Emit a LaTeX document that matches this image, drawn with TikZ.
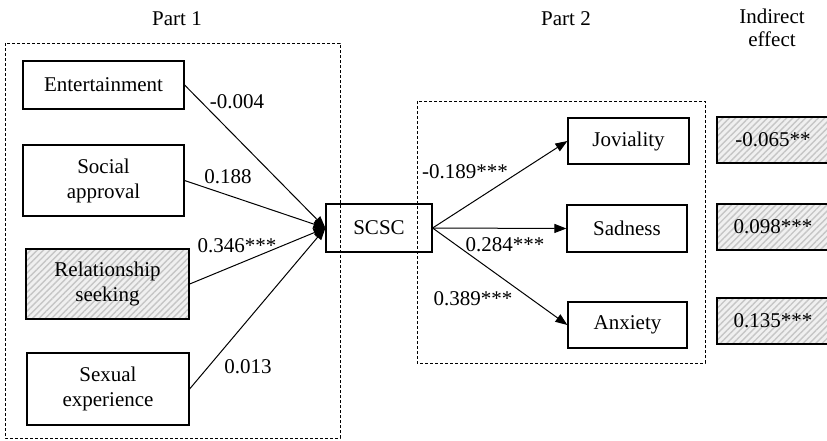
\documentclass[tikz,border=0pt]{standalone}
\usepackage{fontspec}
\setmainfont{Liberation Serif}
\usetikzlibrary{arrows.meta, patterns.meta}

\tikzset{
	varbox/.style = {draw, line width = 1.2pt, inner sep = 0pt, align = center, font = \fontsize{21pt}{25pt}\selectfont},
	hatchbox/.style = {varbox, line width = 2.8pt, preaction = {fill = gray!12}, pattern = {Lines[angle = 45, distance = 4.5pt, line width = 1.4pt]}, pattern color = gray!45},
	coef/.style = {inner sep = 0pt, font = \fontsize{21pt}{25pt}\selectfont},
	partbox/.style = {line width = 1pt, dash pattern = on 3pt off 2pt},
	path/.style = {line width = 1pt, -{Triangle[length = 12pt, width = 9pt]}}
}

\begin{document}
\begin{tikzpicture}[x = 1pt, y = -1pt]
	\clip (0, 0) rectangle (827, 440);
	\fill [white] (0, 0) rectangle (827, 440);

	\coordinate (p1a) at (5, 43);
	\coordinate (p1b) at (340, 438);
	\coordinate (p2a) at (417, 101);
	\coordinate (p2b) at (705, 363);

	\draw [partbox] (p1a) rectangle (p1b);
	\draw [partbox] (p2a) rectangle (p2b);

	\node [coef] (part1) at (177, 19) {Part 1};
	\node [coef] (part2) at (566, 19) {Part 2};
	\node [coef, align = center, font = \fontsize{21pt}{23pt}\selectfont] (indirect) at (772, 28) {Indirect\\effect};

	\node [varbox, minimum width = 161pt, minimum height = 48pt] (ent) at (103.5, 85) {Entertainment};
	\node [varbox, minimum width = 161pt, minimum height = 71pt] (soc) at (103.5, 180.5) {Social\\approval};
	\node [hatchbox, minimum width = 163pt, minimum height = 70pt] (rel) at (107.5, 284) {Relationship\\seeking};
	\node [varbox, minimum width = 162pt, minimum height = 72pt] (sex) at (108, 389) {Sexual\\experience};

	\node [varbox, minimum width = 106pt, minimum height = 48pt] (scsc) at (379, 228) {SCSC};

	\node [varbox, minimum width = 121pt, minimum height = 46pt] (jov) at (628.5, 141) {Joviality};
	\node [varbox, minimum width = 120pt, minimum height = 47pt] (sad) at (627, 228.5) {Sadness};
	\node [varbox, minimum width = 119pt, minimum height = 46pt] (anx) at (627.5, 325) {Anxiety};

	\node [hatchbox, minimum width = 112pt, minimum height = 46pt] (ie1) at (773, 140) {-0.065**};
	\node [hatchbox, minimum width = 112pt, minimum height = 46pt] (ie2) at (773, 227) {0.098***};
	\node [hatchbox, minimum width = 112pt, minimum height = 46pt] (ie3) at (773, 321) {0.135***};

	\draw [path] (ent.east) -- (scsc.west);
	\draw [path] (soc.east) -- (scsc.west);
	\draw [path] (rel.east) -- (scsc.west);
	\draw [path] (sex.east) -- (scsc.west);

	\draw [path] (scsc.east) -- (jov.west);
	\draw [path] (scsc.east) -- (sad.west);
	\draw [path] (scsc.east) -- (anx.west);

	\node [coef] (c-ent) at (237, 102) {-0.004};
	\node [coef] (c-soc) at (228, 177) {0.188};
	\node [coef] (c-rel) at (237, 246) {0.346***};
	\node [coef] (c-sex) at (248, 367) {0.013};
	\node [coef] (c-jov) at (465, 172) {-0.189***};
	\node [coef] (c-sad) at (505, 245) {0.284***};
	\node [coef] (c-anx) at (473, 299) {0.389***};
\end{tikzpicture}
\end{document}
